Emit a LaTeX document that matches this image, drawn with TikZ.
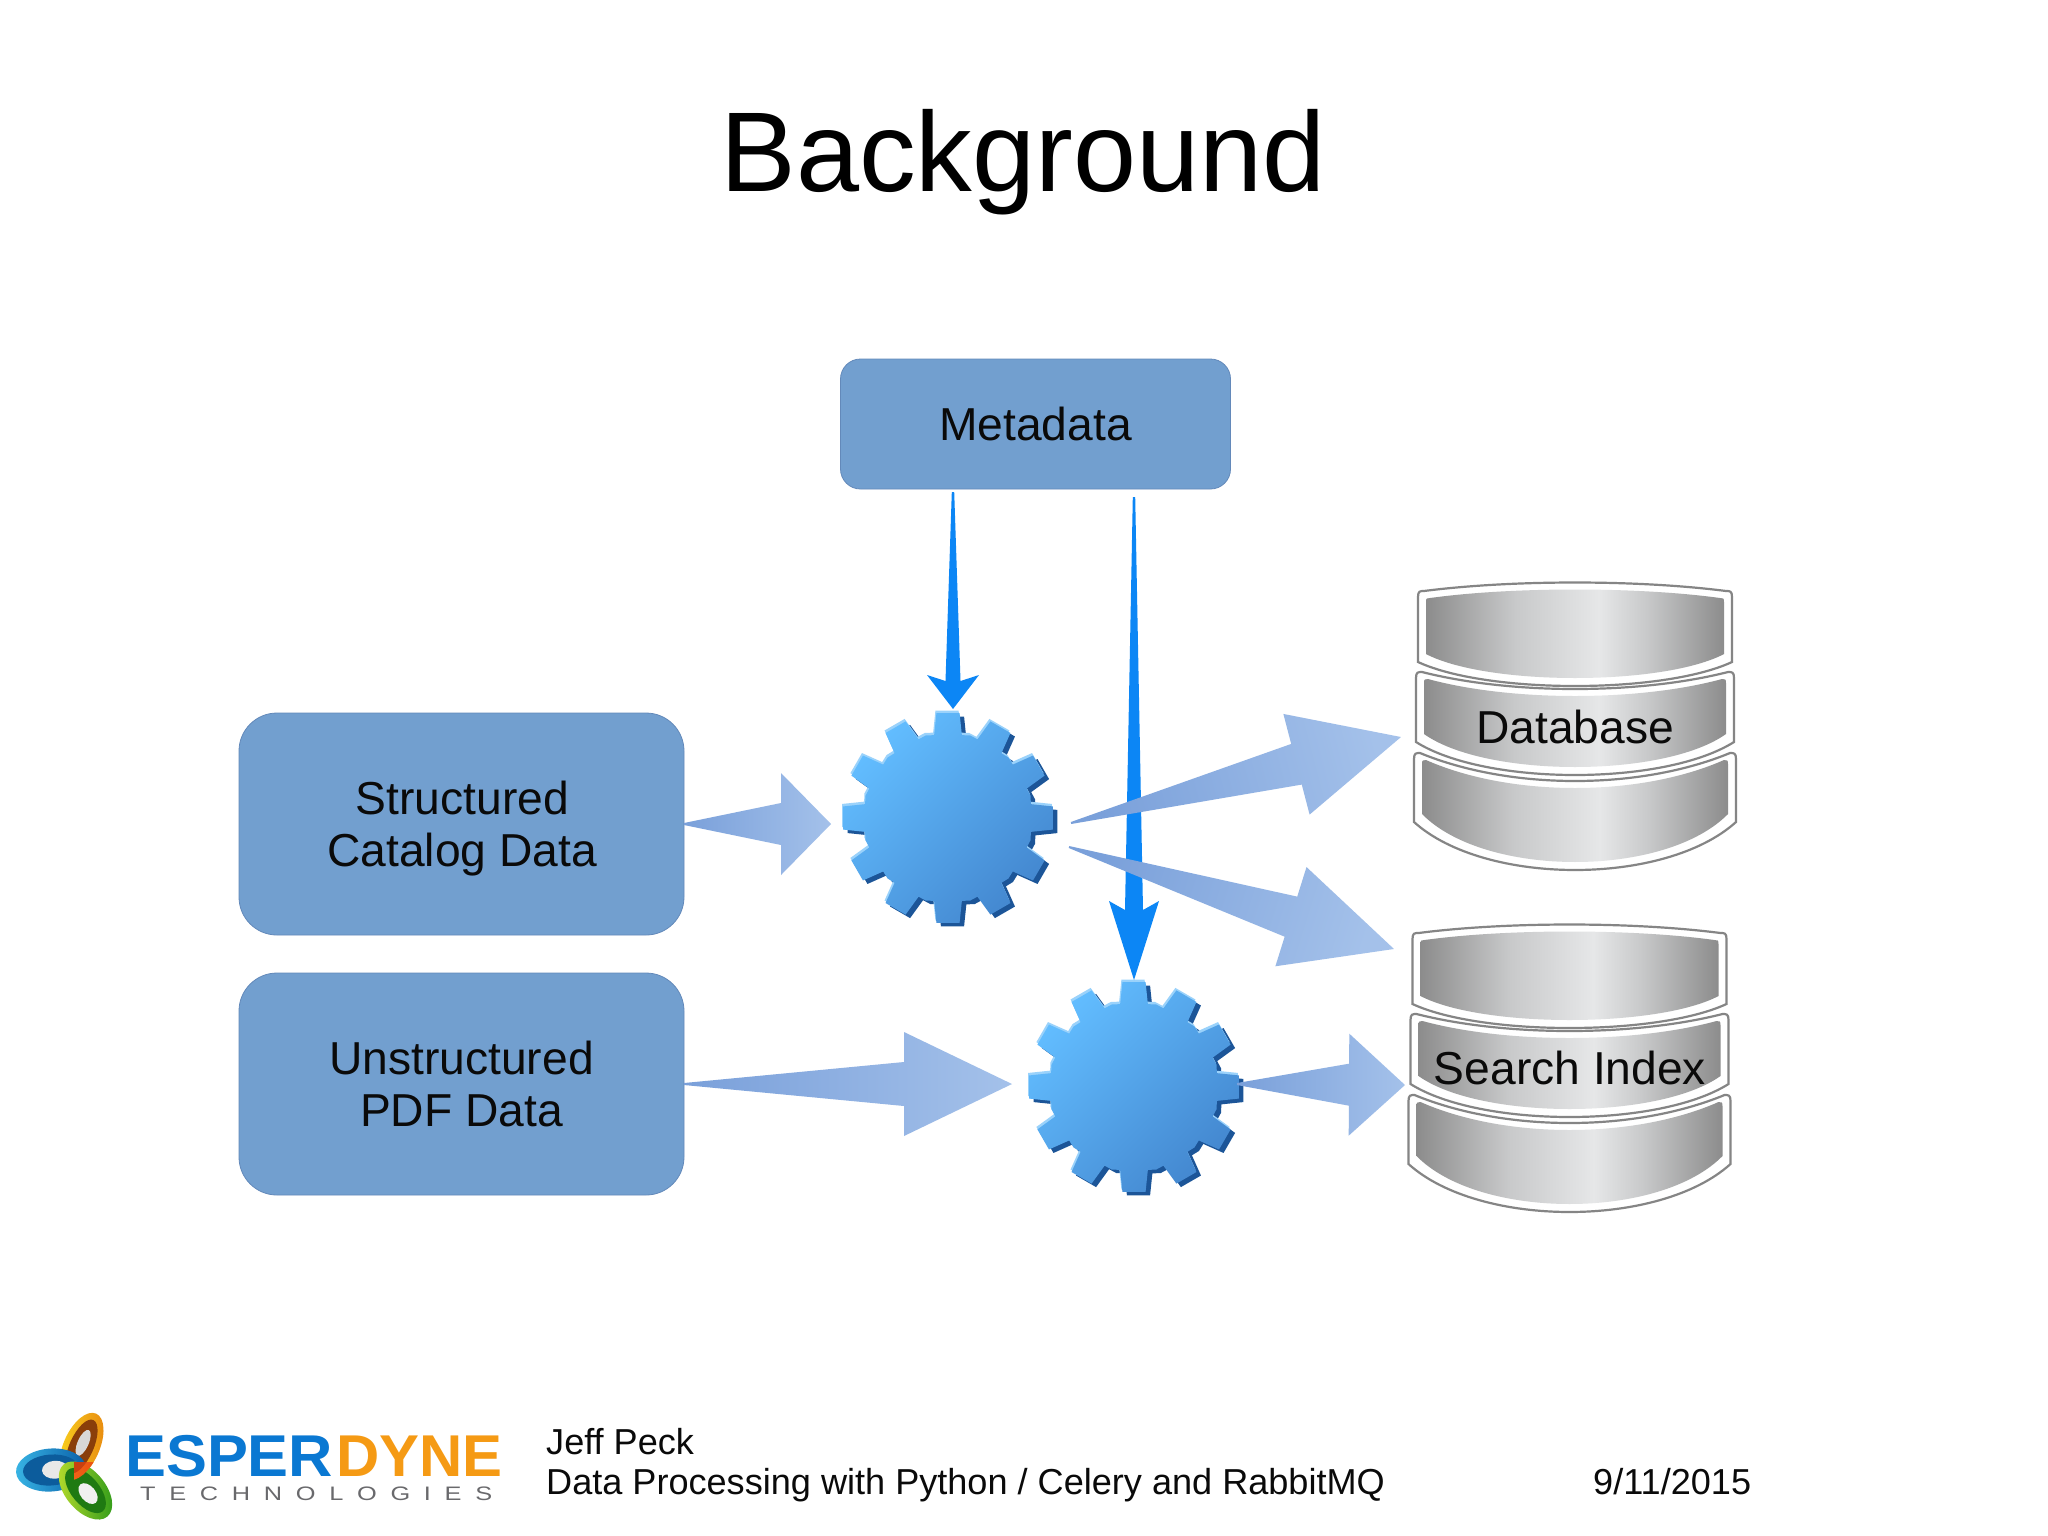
\documentclass[tikz,border=0pt]{standalone}
\usepackage{fontspec}
\setmainfont{Liberation Sans}
\usetikzlibrary{calc}
\definecolor{boxfill}{HTML}{729FCF}
\definecolor{boxline}{HTML}{6389BA}
\definecolor{inkblack}{HTML}{0A0A0A}
\definecolor{bluearrow}{HTML}{0C86F5}
\definecolor{tailblue}{HTML}{7AA0DA}
\definecolor{tipblue}{HTML}{A4C1EA}
\definecolor{gearlight}{HTML}{62BDFF}
\definecolor{geardark}{HTML}{4488D0}
\definecolor{gearshadow}{HTML}{1C5598}
\definecolor{gearhigh}{HTML}{9AD2FB}
\definecolor{diskedge}{HTML}{8C8C8C}
\definecolor{diskquarter}{HTML}{C8C9CA}
\definecolor{diskmid}{HTML}{E6E7E8}
\definecolor{diskline}{HTML}{858585}
\definecolor{yellowA}{HTML}{F9D21E}
\definecolor{yellowB}{HTML}{E88A10}
\definecolor{yellowC}{HTML}{8A3E0A}
\definecolor{holeA}{HTML}{D8D8D8}
\definecolor{cyanA}{HTML}{38B4E4}
\definecolor{cyanB}{HTML}{0A5FA8}
\definecolor{cyanC}{HTML}{0C5C9C}
\definecolor{holeB}{HTML}{E8E8E8}
\definecolor{greenA}{HTML}{B8DC2C}
\definecolor{greenB}{HTML}{2E9A1A}
\definecolor{greenC}{HTML}{1F7A12}
\definecolor{holeC}{HTML}{F0F0F0}
\definecolor{redA}{HTML}{F4701A}
\definecolor{redB}{HTML}{E8480F}
\definecolor{redC}{HTML}{C9400F}
\definecolor{esperblue}{HTML}{0A78D2}
\definecolor{dyneorange}{HTML}{F59A14}
\definecolor{techgray}{HTML}{69696C}
\pgfdeclarehorizontalshading{diskshade}{100bp}{
  color(0bp)=(diskedge); color(25bp)=(diskedge); color(40bp)=(diskquarter);
  color(54bp)=(diskmid); color(62bp)=(diskquarter); color(75bp)=(diskedge); color(100bp)=(diskedge)}
\tikzset{
  databox/.style={draw=boxline,line width=0.8pt,fill=boxfill,inner sep=0pt,align=center,text=inkblack,font=\fontsize{46.2}{52}\selectfont},
  dblabel/.style={anchor=base,inner sep=0pt,text=inkblack,font=\fontsize{46.2}{52}\selectfont},
  foot/.style={anchor=base west,inner sep=0pt,text=inkblack,font=\fontsize{36.1}{40}\selectfont},
  logotext/.style={anchor=base west,inner sep=0pt,font=\fontsize{59}{60}\selectfont\bfseries},
  blocktip/.style={shade,shading=axis,top color=tailblue,bottom color=tipblue,shading angle=\tshade},
  bluetip/.style={fill=bluearrow}
}
% tapered arrow: style, from, to, tail half, neck half, head half, head length, notch
\newcommand\taper[8]{%
  \path let \p1=(#2),\p2=(#3),\n1={atan2(\y2-\y1,\x2-\x1)},\n2={veclen(\x2-\x1,\y2-\y1)} in
    \pgfextra{\pgfmathsetmacro\tmpa{\n1}\pgfmathsetmacro\tmpl{\n2}\xdef\tang{\tmpa}\xdef\tlen{\tmpl}};
  \pgfmathsetmacro\tbase{\tlen-#7}
  \pgfmathsetmacro\tneck{\tlen-#7+#8}
  \pgfmathsetmacro\tshade{\tang+90}
  \path[#1,shift={(#2)},rotate=\tang]
    (0,-#4) -- (\tneck,-#5) -- (\tbase,-#6) -- (\tlen,0) -- (\tbase,#6) -- (\tneck,#5) -- (0,#4) -- cycle;
}
% one disc: x0 x1 corner-y top-mid-y side-bottom-y bottom-mid-y
\newcommand\onedisc[6]{%
  \pgfmathsetmacro\ia{#1+8}\pgfmathsetmacro\ib{#2-8}
  \pgfmathsetmacro\ic{#3+7}\pgfmathsetmacro\id{#4+7}
  \pgfmathsetmacro\ie{#5-8}\pgfmathsetmacro\ig{#6-8}
  \pgfmathsetmacro\dca{#1+0.3*(#2-#1)}
  \pgfmathsetmacro\dcb{#1+0.7*(#2-#1)}
  \pgfmathsetmacro\dla{#1+0.22*(#2-#1)}
  \pgfmathsetmacro\dlb{#1+0.78*(#2-#1)}
  \pgfmathsetmacro\dty{#3+1.333*(#4-#3)}
  \pgfmathsetmacro\dby{#5+1.333*(#6-#5)}
  \draw[diskline,line width=2.2pt,fill=white]
    (#1,#3+6) .. controls (#1,#3) and (#1+2,#3) .. (#1+6,#3)
    .. controls (\dca,\dty) and (\dcb,\dty) .. (#2-6,#3)
    .. controls (#2-2,#3) and (#2,#3) .. (#2,#3+6)
    -- (#2,#5) .. controls (\dlb,\dby) and (\dla,\dby) .. (#1,#5) -- cycle;
  \pgfmathsetmacro\idty{\ic+1.333*(\id-\ic)}
  \pgfmathsetmacro\idby{\ie+1.333*(\ig-\ie)}
  \path[shade,shading=diskshade]
    (\ia,\ic+4) .. controls (\ia,\ic) and (\ia+1,\ic) .. (\ia+4,\ic)
    .. controls (\dca,\idty) and (\dcb,\idty) .. (\ib-4,\ic)
    .. controls (\ib-1,\ic) and (\ib,\ic) .. (\ib,\ic+4)
    -- (\ib,\ie) .. controls (\dlb,\idby) and (\dla,\idby) .. (\ia,\ie) -- cycle;
}
\newcommand\stack{%
  \onedisc{1414}{1736}{753}{781}{822}{870}
  \onedisc{1416}{1734}{672}{689}{742}{775}
  \onedisc{1418}{1732}{591}{582.5}{662}{686}
}
\newcommand\gearpath{%
  (-15:85.5) \foreach \a in {0,30,...,330} {
    -- ({\a-9.5}:84) -- ({\a-6.3}:105.5) -- ({\a+6.3}:105.5) -- ({\a+9.5}:84) -- ({\a+15}:85.5)
  } -- cycle
}
\newcommand\gearat[1]{%
  \begin{scope}[shift={(#1)}]
    \begin{scope}[shift={(4.5,3.5)}]\fill[gearshadow] \gearpath;\end{scope}
    \begin{scope}[shift={(-1,-2.5)}]\fill[gearhigh] \gearpath;\end{scope}
    \path[shade,shading=axis,top color=gearlight,bottom color=geardark,shading angle=45] \gearpath;
  \end{scope}
}
\newcommand\ring[9]{% cx cy rot a b outer-light outer-dark inner hole
  \begin{scope}[shift={(#1,#2)},rotate=#3]
    \path[shade,shading=axis,left color=#6,right color=#7] (0,0) circle[x radius=#4pt,y radius=#5pt];
    \fill[#8] (0,0) circle[x radius=#4pt-7pt,y radius=#5pt-6pt];
    \fill[#9] (4pt,0) circle[x radius=#4pt-22pt,y radius=#5pt-12.5pt];
  \end{scope}
}
\begin{document}
\begin{tikzpicture}[x=1pt,y=-1pt]
\useasboundingbox[fill=white] (0,0) rectangle (2048,1535);

\node[anchor=base,inner sep=0pt,text=black,font=\fontsize{113.4}{120}\selectfont] (title) at (1023,191) {Background};

\node[databox,minimum width=390pt,minimum height=130pt,rounded corners=20pt] (meta) at (1035.5,424) {Metadata};
\node[databox,minimum width=445pt,minimum height=222pt,rounded corners=38pt] (struct) at (461.5,824) {\hspace*{1.5pt}Structured\\\hspace*{1.5pt}\raisebox{0pt}[\height][0pt]{Catalog Data}};
\node[databox,minimum width=445pt,minimum height=222pt,rounded corners=38pt] (unstruct) at (461.5,1084) {Unstructured\\PDF Data};

\coordinate (gearA) at (948,818);
\coordinate (gearB) at (1134,1087);
\coordinate (dbIn) at (1401,737);
\coordinate (idxInA) at (1394,949);
\coordinate (idxInB) at (1405,1085);
\coordinate (metaOutA) at (953,492);
\coordinate (metaOutB) at (1134,497);
\coordinate (gearATop) at (953,709);
\coordinate (gearBTop) at (1134,980);
\coordinate (structOut) at (684,824);
\coordinate (gearAIn) at (831,824);
\coordinate (unstructOut) at (684,1084);
\coordinate (gearBIn) at (1012,1084);
\coordinate (gearAOutA) at (1071,823);
\coordinate (gearAOutB) at (1069,847);
\coordinate (gearBOut) at (1237,1084);

\gearat{gearA}
\gearat{gearB}

\taper{bluetip}{metaOutA}{gearATop}{1.2}{7.5}{26}{34}{6}
\taper{bluetip}{metaOutB}{gearBTop}{1.2}{9}{25}{79}{9}

\taper{blocktip}{structOut}{gearAIn}{1}{21}{51}{50}{0}
\taper{blocktip}{unstructOut}{gearBIn}{1}{22}{52}{108}{0}
\taper{blocktip}{gearBOut}{idxInB}{1}{21}{51}{56}{0}
\taper{blocktip}{gearAOutA}{dbIn}{1}{21}{52}{108}{0}
\taper{blocktip}{gearAOutB}{idxInA}{1}{21}{52}{108}{0}

\stack
\begin{scope}[shift={(-5.5,342)}]
\stack
\end{scope}
\node[dblabel] (db) at (1575,743) {Database};
\node[dblabel] (idx) at (1570,1084) {Search Index};

% logo
\ring{81.5}{1446.5}{66}{36}{18}{yellowA}{yellowB}{yellowC}{holeA}
\ring{51}{1470}{4}{35}{21.5}{cyanA}{cyanB}{cyanC}{holeB}
\ring{85.5}{1490.5}{-50}{34}{20}{greenA}{greenB}{greenC}{holeC}
\begin{scope}
\clip (74,1462) rectangle (100,1486);
\ring{81.5}{1446.5}{66}{36}{18}{redA}{redB}{redC}{holeA}
\end{scope}
\node[logotext,text=esperblue] (esper) at (125,1476) {\scalebox{1.04}[1]{ESPER}};
\node[logotext,text=dyneorange] (dyne) at (336,1476) {\scalebox{1.015}[1]{DYNE}};
\node[anchor=base west,inner sep=0pt,text=techgray] (tech) at (140,1500)
  {\scalebox{1.3}[1]{\fontsize{19.5}{20}\selectfont\addfontfeature{LetterSpace=54}TECHNOLOGIES}};

\node[foot] (author) at (546,1454) {Jeff Peck};
\node[foot] (talk) at (546,1494) {Data Processing with Python / Celery and RabbitMQ};
\node[foot] (date) at (1593,1494) {9/11/2015};
\end{tikzpicture}
\end{document}
